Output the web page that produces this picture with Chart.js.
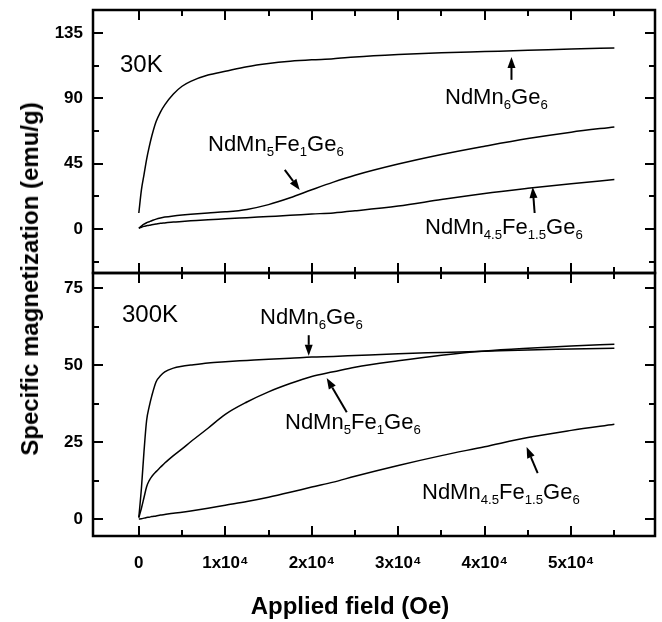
<!DOCTYPE html>
<html>
<head>
<meta charset="utf-8">
<title>Specific magnetization vs applied field</title>
<script src="https://cdn.jsdelivr.net/npm/chart.js@4.4.1/dist/chart.umd.min.js"></script>
<style>
  html, body { margin: 0; padding: 0; background: #fff; }
  #wrap { position: relative; width: 662px; height: 622px; font-family: 'Liberation Sans', Arial, sans-serif; color: #000; }
  #chart { position: absolute; left: 0; top: 0; }
  .lbl { position: absolute; font-size: 22px; line-height: 1; white-space: nowrap; }
  .lbl sub { font-size: 0.6em; vertical-align: baseline; position: relative; top: 0.35em; }
  .temp { font-size: 24px; }
  .axis-title { position: absolute; font-weight: bold; font-size: 24px; line-height: 1; white-space: nowrap; transform: translate(-50%, -50%); }
  .axis-title.y { transform: translate(-50%, -50%) rotate(-90deg); }
</style>
</head>
<body>
<div id="wrap">
  <canvas id="chart" width="662" height="622"></canvas>

  <div class="lbl temp" style="left:120px; top:52px;">30K</div>
  <div class="lbl" style="left:445px; top:86px;">NdMn<sub>6</sub>Ge<sub>6</sub></div>
  <div class="lbl" style="left:208px; top:133px;">NdMn<sub>5</sub>Fe<sub>1</sub>Ge<sub>6</sub></div>
  <div class="lbl" style="left:425px; top:216px;">NdMn<sub>4.5</sub>Fe<sub>1.5</sub>Ge<sub>6</sub></div>

  <div class="lbl temp" style="left:122px; top:302px;">300K</div>
  <div class="lbl" style="left:260px; top:306px;">NdMn<sub>6</sub>Ge<sub>6</sub></div>
  <div class="lbl" style="left:285px; top:411px;">NdMn<sub>5</sub>Fe<sub>1</sub>Ge<sub>6</sub></div>
  <div class="lbl" style="left:422px; top:481px;">NdMn<sub>4.5</sub>Fe<sub>1.5</sub>Ge<sub>6</sub></div>

  <div class="axis-title y" style="left:30px; top:279px;">Specific magnetization (emu/g)</div>
  <div class="axis-title" style="left:350px; top:606px;">Applied field (Oe)</div>
</div>

<script>
// Applied field (Oe), denser near zero where the curves rise steeply.
const FIELD = [0, 300, 600, 900, 1200, 1500, 2000, 2500, 3000, 4000, 5000, 6000, 8000,
  10000, 12500, 15000, 17500, 20000, 22500, 25000, 30000, 35000, 40000, 45000, 50000, 55000];

// 30 K panel (emu/g)
const MN6_30K = [11, 27, 37.5, 48, 56.5, 64, 74, 80.5, 85.5, 93, 98.3, 101.7, 106,
  108.6, 111.8, 114, 115.5, 116.5, 117.2, 118.5, 120.2, 121.4, 122.2, 123, 124, 124.7];
const FE1_30K = [0.5, 2, 3.3, 4.3, 5, 5.7, 6.8, 7.6, 8.2, 9, 9.6, 10.1, 11,
  11.8, 13.5, 16.8, 21.5, 27, 32.3, 37, 44.7, 51.3, 57, 62.3, 66.7, 70.3];
const FE15_30K = [0.5, 1.2, 1.8, 2.2, 2.6, 2.9, 3.4, 3.9, 4.2, 4.8, 5.2, 5.6, 6.4,
  7, 7.8, 8.6, 9.4, 10.3, 11.1, 12.5, 15.8, 20.3, 24.5, 28, 31.2, 34];

// 300 K panel (emu/g)
const MN6_300K = [0.5, 10, 22, 32, 36.5, 40, 44.6, 46.5, 47.8, 49, 49.6, 50, 50.7,
  51.1, 51.5, 51.9, 52.2, 52.6, 52.8, 53.1, 53.7, 54.1, 54.5, 54.9, 55.2, 55.5];
const FE1_300K = [0.5, 3.5, 7, 10.5, 12.5, 13.8, 15.4, 16.8, 18.2, 20.6, 22.8, 25.1, 29.5,
  34, 38, 41.3, 44, 46.3, 47.8, 49.3, 51.4, 53.2, 54.6, 55.5, 56.2, 56.8];
const FE15_300K = [0, 0.1, 0.3, 0.5, 0.6, 0.8, 1, 1.3, 1.5, 1.9, 2.2, 2.6, 3.5,
  4.5, 5.7, 7.1, 8.7, 10.4, 12, 13.9, 17.4, 20.6, 23.5, 26.5, 28.8, 30.8];

// Tick values and labels
const X_TICKS = [0, 10000, 20000, 30000, 40000, 50000];
const X_TICK_LABELS = ['0', '1x10\u2074', '2x10\u2074', '3x10\u2074', '4x10\u2074', '5x10\u2074'];
const X_MINOR = [5000, 15000, 25000, 35000, 45000, 55000];
const TOP_TICKS = [0, 45, 90, 135];
const TOP_MINOR = [-22.5, 22.5, 67.5, 112.5];
const BOT_TICKS = [0, 25, 50, 75];
const BOT_MINOR = [12.5, 37.5, 62.5];

// Annotation arrows, in data units of each panel: [field, magnetization]
const ARROWS = [
  { axis: 'yTop', from: [43100, 102.7], to: [43100, 118.5] },
  { axis: 'yTop', from: [16880, 40.7], to: [18610, 26.9] },
  { axis: 'yTop', from: [45780, 11], to: [45550, 28.9] },
  { axis: 'yBot', from: [19650, 59.7], to: [19650, 53] },
  { axis: 'yBot', from: [24050, 34.7], to: [21730, 45.8] },
  { axis: 'yBot', from: [46130, 14.9], to: [44850, 23.4] }
];

const PANELS = [
  { axis: 'yTop', major: TOP_TICKS, minor: TOP_MINOR },
  { axis: 'yBot', major: BOT_TICKS, minor: BOT_MINOR }
];

const TICK_FONT = { family: "'Liberation Sans', Arial, sans-serif", size: 17, weight: 'bold' };

function series(values, axis) {
  return {
    data: FIELD.map((f, i) => ({ x: f, y: values[i] })),
    yAxisID: axis,
    borderColor: '#000',
    borderWidth: 1.5,
    pointRadius: 0,
    fill: false,
    cubicInterpolationMode: 'monotone'
  };
}

// Frame, inward tick marks and arrows, all placed through the chart's scales.
const framePlugin = {
  id: 'frame',
  afterDatasetsDraw(chart) {
    const ctx = chart.ctx;
    const x = chart.scales.x;
    ctx.save();
    ctx.strokeStyle = '#000';
    ctx.fillStyle = '#000';
    ctx.lineCap = 'butt';

    PANELS.forEach((p) => {
      const y = chart.scales[p.axis];
      ctx.lineWidth = 2;
      ctx.beginPath();
      const yTick = (v, len) => {
        const py = Math.round(y.getPixelForValue(v));
        ctx.moveTo(x.left, py); ctx.lineTo(x.left + len, py);
        ctx.moveTo(x.right, py); ctx.lineTo(x.right - len, py);
      };
      const xTick = (v, len) => {
        const px = Math.round(x.getPixelForValue(v));
        ctx.moveTo(px, y.top); ctx.lineTo(px, y.top + len);
        ctx.moveTo(px, y.bottom); ctx.lineTo(px, y.bottom - len);
      };
      p.major.forEach((v) => yTick(v, 10));
      p.minor.forEach((v) => yTick(v, 6));
      X_TICKS.forEach((v) => xTick(v, 10));
      X_MINOR.forEach((v) => xTick(v, 6));
      ctx.stroke();

      ctx.lineWidth = 2.5;
      ctx.strokeRect(x.left, y.top, x.right - x.left, y.bottom - y.top);
    });

    ARROWS.forEach((a) => {
      const y = chart.scales[a.axis];
      const x0 = x.getPixelForValue(a.from[0]);
      const y0 = y.getPixelForValue(a.from[1]);
      const x1 = x.getPixelForValue(a.to[0]);
      const y1 = y.getPixelForValue(a.to[1]);
      const ang = Math.atan2(y1 - y0, x1 - x0);
      const head = 11;
      const half = 4;
      const bx = x1 - head * Math.cos(ang);
      const by = y1 - head * Math.sin(ang);
      ctx.lineWidth = 2;
      ctx.beginPath();
      ctx.moveTo(x0, y0);
      ctx.lineTo(bx, by);
      ctx.stroke();
      ctx.beginPath();
      ctx.moveTo(x1, y1);
      ctx.lineTo(bx + half * Math.sin(ang), by - half * Math.cos(ang));
      ctx.lineTo(bx - half * Math.sin(ang), by + half * Math.cos(ang));
      ctx.closePath();
      ctx.fill();
    });
    ctx.restore();
  }
};

// drop the edge padding Chart.js reserves for half a tick label
function noEdgePadding(s) {
  s.paddingTop = 0;
  s.paddingBottom = 0;
  s.paddingLeft = 0;
  s.paddingRight = 0;
}

function yScale(min, max, ticks) {
  return {
    type: 'linear',
    position: 'left',
    stack: 'panels',
    stackWeight: 1,
    min: min,
    max: max,
    afterBuildTicks: (s) => { s.ticks = ticks.map((v) => ({ value: v })); },
    afterFit: (s) => { s.width = 93; noEdgePadding(s); },
    grid: { display: false, drawTicks: false },
    border: { display: false },
    ticks: { color: '#000', font: TICK_FONT, padding: 10, callback: (v) => String(v) }
  };
}

new Chart(document.getElementById('chart'), {
  type: 'line',
  data: {
    datasets: [
      series(MN6_30K, 'yTop'),
      series(FE1_30K, 'yTop'),
      series(FE15_30K, 'yTop'),
      series(MN6_300K, 'yBot'),
      series(FE1_300K, 'yBot'),
      series(FE15_300K, 'yBot')
    ]
  },
  options: {
    responsive: false,
    animation: false,
    devicePixelRatio: 1,
    layout: { padding: { left: 0, right: 7, top: 10, bottom: 0 } },
    plugins: { legend: { display: false }, tooltip: { enabled: false } },
    scales: {
      x: {
        type: 'linear',
        min: -5300,
        max: 59700,
        afterBuildTicks: (s) => { s.ticks = X_TICKS.map((v) => ({ value: v })); },
        afterFit: (s) => { s.height = 86; noEdgePadding(s); },
        grid: { display: false, drawTicks: false },
        border: { display: false },
        ticks: { color: '#000', font: TICK_FONT, padding: 17, maxRotation: 0,
          callback: (v, i) => X_TICK_LABELS[i] }
      },
      // stacked left axes are laid out last-first, so the lower panel comes first
      yBot: yScale(-5.5, 79.9, BOT_TICKS),
      yTop: yScale(-30.3, 150.8, TOP_TICKS)
    }
  },
  plugins: [framePlugin]
});
</script>
</body>
</html>
